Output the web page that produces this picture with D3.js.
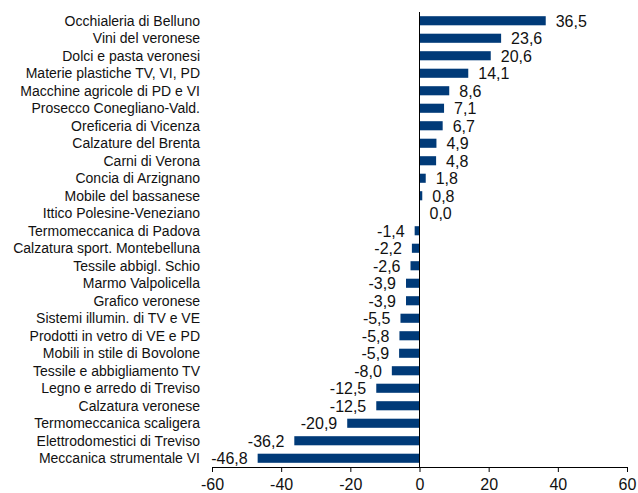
<!DOCTYPE html>
<html>
<head>
<meta charset="utf-8">
<script src="https://cdn.jsdelivr.net/npm/d3@7"></script>
<style>
  body { margin: 0; background: #fff; }
  text { font-family: "Liberation Sans", Arial, sans-serif; fill: #111; }
</style>
</head>
<body>
<script>
const categories = ["Occhialeria di Belluno", "Vini del veronese", "Dolci e pasta veronesi", "Materie plastiche TV, VI, PD",
  "Macchine agricole di PD e VI", "Prosecco Conegliano-Vald.", "Oreficeria di Vicenza", "Calzature del Brenta",
  "Carni di Verona", "Concia di Arzignano", "Mobile del bassanese", "Ittico Polesine-Veneziano",
  "Termomeccanica di Padova", "Calzatura sport. Montebelluna", "Tessile abbigl. Schio", "Marmo Valpolicella",
  "Grafico veronese", "Sistemi illumin. di TV e VE", "Prodotti in vetro di VE e PD", "Mobili in stile di Bovolone",
  "Tessile e abbigliamento TV", "Legno e arredo di Treviso", "Calzatura veronese", "Termomeccanica scaligera",
  "Elettrodomestici di Treviso", "Meccanica strumentale VI"]
const values = [36.5, 23.6, 20.6, 14.1, 8.6, 7.1, 6.7, 4.9, 4.8, 1.8, 0.8, 0.0,
  -1.4, -2.2, -2.6, -3.9, -3.9, -5.5, -5.8, -5.9, -8.0, -12.5, -12.5, -20.9, -36.2, -46.8]
const xTicks = [-60, -40, -20, 0, 20, 40, 60]

const w = 638
const h = 493
const data = categories.map((c, i) => ({name: c, value: values[i]}))

const loc = d3.formatLocale({decimal: ",", thousands: ".", grouping: [3], currency: ["", "€"], minus: "-"})
const fmt = loc.format(".1f")

const svg = d3.select("body").append("svg").attr("width", w).attr("height", h)

const x = d3.scaleLinear().domain([-60, 60]).range([212, 627])
const y = d3.scaleBand().domain(categories).range([12, 467]).paddingInner(0.48).paddingOuter(0.24)

svg.selectAll("rect.bar").data(data).enter().append("rect").attr("class", "bar")
  .attr("x", d => x(Math.min(0, d.value)))
  .attr("y", d => y(d.name))
  .attr("width", d => Math.abs(x(d.value) - x(0)))
  .attr("height", y.bandwidth())
  .attr("fill", "#003a78")

// x axis
const xAxis = svg.append("g").attr("transform", "translate(0," + 467 + ")")
  .call(d3.axisBottom(x).tickValues(xTicks).tickSize(5).tickSizeOuter(0).tickPadding(7).tickFormat(d => loc.format("d")(d)))
xAxis.select(".domain").attr("stroke", "#000")
xAxis.selectAll(".tick line").attr("stroke", "#000")
xAxis.selectAll("text").style("font-size", "16px").attr("fill", "#111").attr("font-family", null)

// zero line
svg.append("line").attr("x1", x(0)).attr("x2", x(0)).attr("y1", 12).attr("y2", 467).attr("stroke", "#000")

// category labels
svg.selectAll("text.cat").data(data).enter().append("text").attr("class", "cat")
  .attr("x", 200)
  .attr("y", d => y(d.name) + y.bandwidth() / 2)
  .attr("dy", "0.36em")
  .attr("text-anchor", "end")
  .style("font-size", "14px")
  .text(d => d.name)

// value labels
svg.selectAll("text.val").data(data).enter().append("text").attr("class", "val")
  .attr("x", d => d.value >= 0 ? x(d.value) + 10 : x(d.value) - 10)
  .attr("y", d => y(d.name) + y.bandwidth() / 2)
  .attr("dy", "0.36em")
  .attr("text-anchor", d => d.value >= 0 ? "start" : "end")
  .style("font-size", "16px")
  .text(d => fmt(d.value))
</script>
</body>
</html>
